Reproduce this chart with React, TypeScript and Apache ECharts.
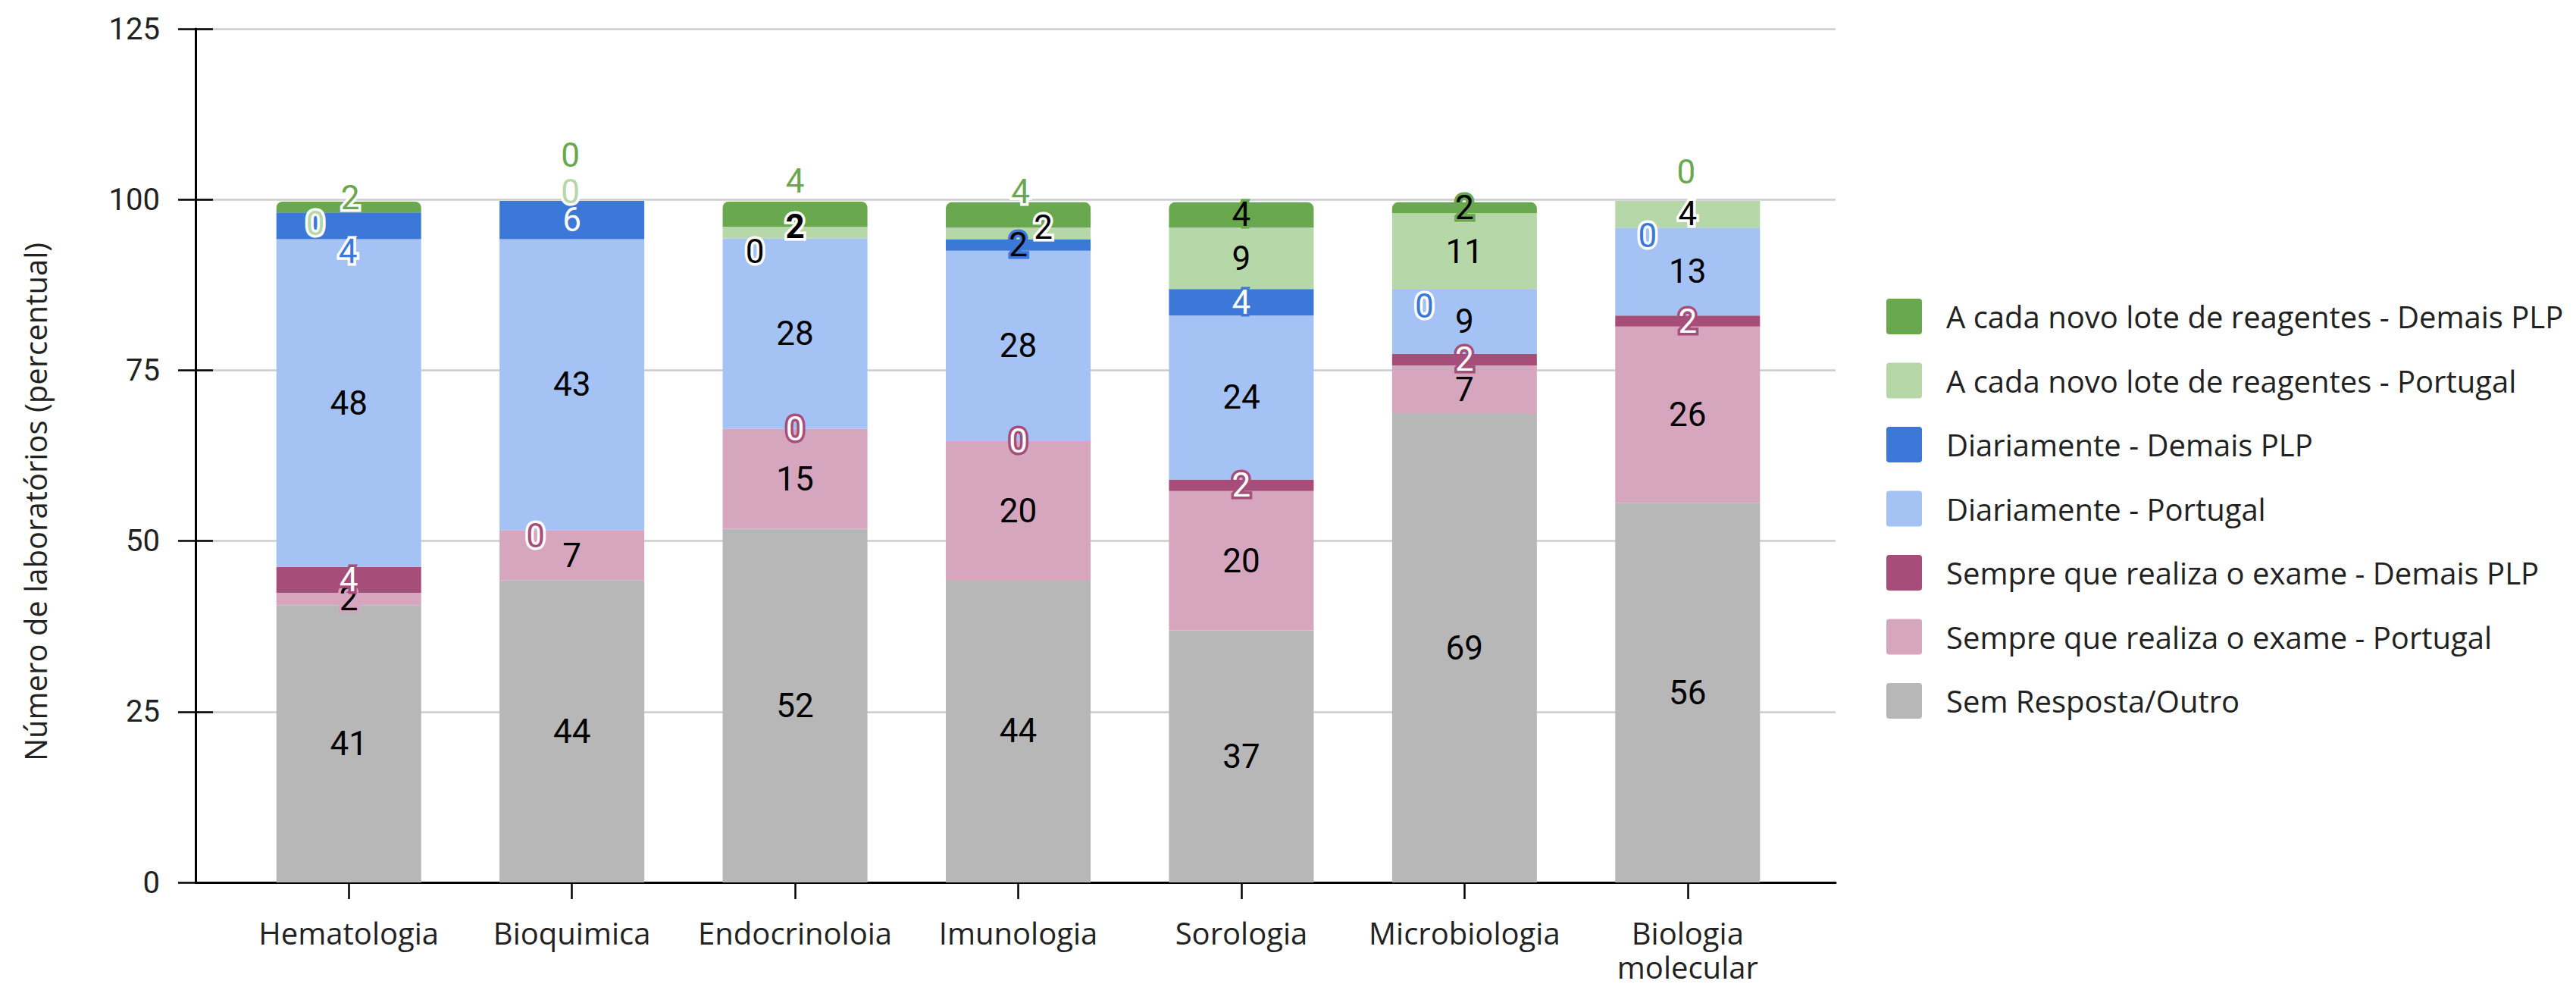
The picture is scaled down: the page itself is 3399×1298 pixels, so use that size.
import React, { useEffect, useRef } from "react";
import * as echarts from "echarts";

// ---------- data ----------
const categories = [
  "Hematologia",
  "Bioquimica",
  "Endocrinoloia",
  "Imunologia",
  "Sorologia",
  "Microbiologia",
  "Biologia molecular",
];

const semResposta = [40.6, 44.2, 51.8, 44.3, 36.9, 68.6, 55.6];
const sempreExamePortugal = [1.8, 7.4, 14.6, 20.3, 20.4, 7.1, 25.8];
const sempreExameDemais = [3.8, 0, 0, 0, 1.7, 1.7, 1.6];
const diariamentePortugal = [48.0, 42.6, 27.9, 27.9, 24.0, 9.4, 12.9];
const diariamenteDemais = [3.9, 5.6, 0, 1.7, 3.9, 0, 0];
const lotePortugal = [0, 0, 1.7, 1.7, 9.0, 11.2, 3.9];
const loteDemais = [1.6, 0, 3.7, 3.7, 3.7, 1.6, 0];

const yMin = 0;
const yMax = 125;
const yStep = 25;

const yTitle = "Número de laboratórios (percentual)";

// ---------- styles ----------
const COL = {
  gray: "#b7b7b7",
  pink: "#d5a6bd",
  dpink: "#a64d79",
  lblue: "#a4c2f4",
  blue: "#3c78d8",
  lgreen: "#b6d7a8",
  green: "#6aa84f",
};

const W = 3399;
const H = 1298;
const PLOT_TOP = 38;
const PLOT_BOTTOM = 1164;
const AXIS_LEFT = 258;
const AXIS_RIGHT = 2422;
const BAND_LEFT = 313;
const BAND_RIGHT = 2374;

type Tweak = { dx: number; dy: number; fill: string; halo: string; bold?: boolean } | null;

const WHITE = "#ffffff";
const BLACK = "#000000";

// label placement tweaks (annotation collision avoidance in the original)
const labelTweaks: Record<string, Tweak[]> = {
  "Sempre que realiza o exame - Demais PLP": [
    null,
    { dx: -48, dy: 8, fill: COL.dpink, halo: WHITE },
    null, null, null, null, null,
  ],
  "Diariamente - Demais PLP": [
    { dx: -1, dy: 34, fill: COL.blue, halo: WHITE },
    null,
    { dx: -53, dy: 17, fill: BLACK, halo: WHITE },
    { dx: 0, dy: 0, fill: BLACK, halo: COL.blue },
    null,
    { dx: -53, dy: 22, fill: COL.blue, halo: WHITE },
    { dx: -53, dy: 11, fill: COL.blue, halo: WHITE },
  ],
  "A cada novo lote de reagentes - Portugal": [
    { dx: -44, dy: 15, fill: COL.lgreen, halo: WHITE },
    { dx: -2, dy: -12, fill: COL.lgreen, halo: WHITE },
    { dx: 0, dy: -8, fill: BLACK, halo: WHITE, bold: true },
    { dx: 33, dy: -8, fill: BLACK, halo: WHITE },
    null,
    null,
    { dx: 0, dy: -1, fill: BLACK, halo: WHITE },
  ],
  "A cada novo lote de reagentes - Demais PLP": [
    { dx: 2, dy: -12, fill: COL.green, halo: WHITE },
    { dx: -2, dy: -60, fill: COL.green, halo: WHITE },
    { dx: 0, dy: -44, fill: COL.green, halo: WHITE },
    { dx: 3, dy: -30, fill: COL.green, halo: WHITE },
    null,
    null,
    { dx: -2, dy: -38, fill: COL.green, halo: WHITE },
  ],
};

const seriesDefs = [
  { name: "Sem Resposta/Outro", data: semResposta, color: COL.gray, text: BLACK },
  { name: "Sempre que realiza o exame - Portugal", data: sempreExamePortugal, color: COL.pink, text: BLACK },
  { name: "Sempre que realiza o exame - Demais PLP", data: sempreExameDemais, color: COL.dpink, text: WHITE },
  { name: "Diariamente - Portugal", data: diariamentePortugal, color: COL.lblue, text: BLACK },
  { name: "Diariamente - Demais PLP", data: diariamenteDemais, color: COL.blue, text: WHITE },
  { name: "A cada novo lote de reagentes - Portugal", data: lotePortugal, color: COL.lgreen, text: BLACK },
  { name: "A cada novo lote de reagentes - Demais PLP", data: loteDemais, color: COL.green, text: BLACK },
];

const LEGEND_ICON =
  "path://M4,0H43A4,4,0,0,1,47,4V43A4,4,0,0,1,43,47H4A4,4,0,0,1,0,43V4A4,4,0,0,1,4,0Z";

function buildOption() {
  const series = seriesDefs.map((s, si) => {
    const tw = labelTweaks[s.name];
    const data = s.data.map((v, i) => {
      const t = tw ? tw[i] : null;
      if (!t) return v;
      return {
        value: v,
        label: {
          offset: [t.dx, t.dy],
          color: t.fill,
          textBorderColor: t.halo,
          fontWeight: t.bold ? "bold" : "normal",
        },
      };
    });
    return {
      type: "bar",
      name: s.name,
      stack: "total",
      xAxisIndex: 1,
      yAxisIndex: 2,
      barWidth: 191,
      data,
      itemStyle: {
        color: s.color,
        borderRadius: si === seriesDefs.length - 1 ? [8, 8, 0, 0] : 0,
      },
      label: {
        show: true,
        position: "inside",
        formatter: (p: any) => String(Math.round(Number(p.value))),
        fontFamily: "Roboto",
        fontSize: 44,
        color: s.text,
        textBorderColor: s.color,
        textBorderWidth: 7,
      },
      emphasis: { disabled: true },
    };
  });

  return {
    animation: false,
    backgroundColor: "#ffffff",
    grid: [
      {
        left: AXIS_LEFT,
        right: W - AXIS_RIGHT,
        top: PLOT_TOP,
        bottom: H - PLOT_BOTTOM,
        containLabel: false,
        outerBoundsMode: "none",
      },
      {
        left: BAND_LEFT,
        right: W - BAND_RIGHT,
        top: PLOT_TOP,
        bottom: H - PLOT_BOTTOM,
        containLabel: false,
        outerBoundsMode: "none",
      },
    ],
    xAxis: [
      {
        gridIndex: 0,
        type: "value",
        min: 0,
        max: 1,
        position: "bottom",
        axisLine: { show: true, lineStyle: { color: "#000", width: 3 } },
        axisTick: { show: false },
        axisLabel: { show: false },
        splitLine: { show: false },
      },
      {
        gridIndex: 1,
        type: "category",
        data: categories,
        position: "bottom",
        axisLine: { show: false },
        axisTick: {
          show: true,
          alignWithLabel: true,
          inside: false,
          length: 22,
          lineStyle: { color: "#000", width: 2.5 },
        },
        axisLabel: {
          show: true,
          interval: 0,
          margin: 44,
          fontFamily: "Open Sans",
          fontSize: 40,
          lineHeight: 45,
          color: "#222222",
          formatter: (v: string) => (v.length > 14 ? v.replace(" ", "\n") : v),
        },
        splitLine: { show: false },
      },
      {
        gridIndex: 1,
        type: "category",
        data: categories,
        position: "bottom",
        axisLine: { show: false },
        axisTick: {
          show: true,
          alignWithLabel: true,
          inside: true,
          length: 22,
          lineStyle: { color: "#000", width: 2.5 },
        },
        axisLabel: { show: false },
        splitLine: { show: false },
      },
    ],
    yAxis: [
      {
        gridIndex: 0,
        type: "value",
        min: yMin,
        max: yMax,
        interval: yStep,
        position: "left",
        axisLine: { show: true, lineStyle: { color: "#000", width: 3 } },
        axisTick: { show: true, inside: false, length: 23, lineStyle: { color: "#000", width: 2.5 } },
        axisLabel: {
          show: true,
          margin: 47,
          fontFamily: "Roboto",
          fontSize: 40,
          color: "#222222",
        },
        splitLine: { show: true, lineStyle: { color: "#cccccc", width: 2.5 } },
      },
      {
        gridIndex: 0,
        type: "value",
        min: yMin,
        max: yMax,
        interval: yStep,
        position: "left",
        axisLine: { show: false },
        axisTick: { show: true, inside: true, length: 23, lineStyle: { color: "#000", width: 2.5 } },
        axisLabel: { show: false },
        splitLine: { show: false },
      },
      {
        gridIndex: 1,
        type: "value",
        min: yMin,
        max: yMax,
        interval: yStep,
        show: false,
        splitLine: { show: false },
      },
    ],
    legend: {
      orient: "vertical",
      left: 2489,
      top: 394,
      padding: 0,
      itemWidth: 47,
      itemHeight: 47,
      itemGap: 37.5,
      icon: LEGEND_ICON,
      selectedMode: false,
      data: seriesDefs.map((s) => s.name).reverse(),
      textStyle: {
        fontFamily: "Open Sans",
        fontSize: 40,
        color: "#222222",
        padding: [0, 0, 0, 27],
      },
    },
    graphic: [
      {
        type: "text",
        x: 46,
        y: 662,
        rotation: Math.PI / 2,
        silent: true,
        style: {
          text: yTitle,
          fill: "#222222",
          font: '40px "Open Sans"',
          textAlign: "center",
          textVerticalAlign: "middle",
        },
      },
    ],
    series,
  };
}

export default function App() {
  const ref = useRef<HTMLDivElement | null>(null);
  useEffect(() => {
    if (!ref.current) return;
    const chart = echarts.init(ref.current, null, { renderer: "svg" });
    chart.setOption(buildOption() as any);
    return () => {
      chart.dispose();
    };
  }, []);
  return (
    <div
      ref={ref}
      style={{
        position: "fixed",
        left: 0,
        top: 0,
        width: W + "px",
        height: H + "px",
        background: "#ffffff",
      }}
    />
  );
}
